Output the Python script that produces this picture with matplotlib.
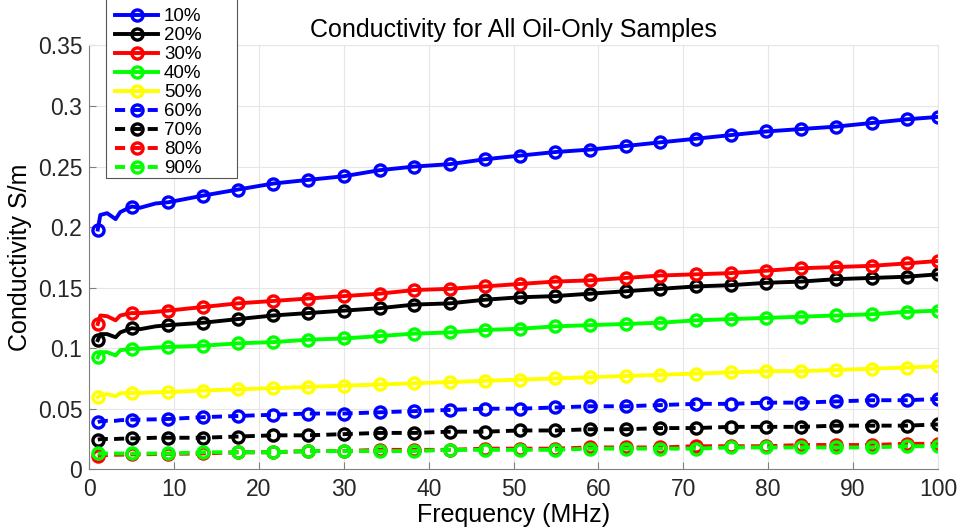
import numpy as np
import matplotlib.pyplot as plt
from matplotlib.patches import Rectangle

plt.rcParams['font.family'] = ['Liberation Sans', 'DejaVu Sans']

# ---------- DATA ----------
# frequency points (MHz); markers are drawn on every point except the few
# extra points near the start that show the early wiggle
freq = [1, 1.3, 2.1, 3.1, 3.65, 5, 6.0, 7.8, 9.3, 13.4, 17.5, 21.7, 25.8, 30,
        34.2, 38.3, 42.5, 46.6, 50.7, 54.9, 59, 63.2, 67.3, 71.5, 75.6, 79.8,
        83.9, 88, 92.2, 96.3, 100]
marker_idx = [0, 5] + list(range(8, len(freq)))

s10 = [0.198, 0.210, 0.2115, 0.2066, 0.2124, 0.217, 0.216, 0.2195, 0.2205,
       0.226, 0.231, 0.236, 0.239, 0.242, 0.247, 0.250, 0.252, 0.256, 0.259,
       0.262, 0.264, 0.267, 0.270, 0.273, 0.276, 0.279, 0.281, 0.283, 0.286,
       0.289, 0.291]
s20 = [0.1066, 0.1116, 0.1116, 0.109, 0.113, 0.1165, 0.1157, 0.118, 0.119,
       0.121, 0.124, 0.127, 0.129, 0.131, 0.133, 0.136, 0.137, 0.140, 0.142,
       0.143, 0.145, 0.147, 0.149, 0.151, 0.152, 0.154, 0.155, 0.157, 0.158,
       0.159, 0.161]
s30 = [0.120, 0.127, 0.1264, 0.123, 0.127, 0.129, 0.129, 0.130, 0.131,
       0.134, 0.137, 0.139, 0.141, 0.143, 0.145, 0.148, 0.149, 0.151, 0.153,
       0.155, 0.156, 0.158, 0.160, 0.161, 0.162, 0.164, 0.166, 0.167, 0.168,
       0.170, 0.172]
s40 = [0.0925, 0.0967, 0.0967, 0.094, 0.0983, 0.0995, 0.0995, 0.1005, 0.101,
       0.102, 0.104, 0.105, 0.107, 0.108, 0.110, 0.112, 0.113, 0.115, 0.116,
       0.118, 0.119, 0.120, 0.121, 0.123, 0.124, 0.125, 0.126, 0.127, 0.128,
       0.130, 0.131]
s50 = [0.0595, 0.061, 0.062, 0.0603, 0.0628, 0.063, 0.063, 0.0636, 0.0638,
       0.065, 0.066, 0.067, 0.068, 0.069, 0.070, 0.071, 0.072, 0.073, 0.074,
       0.075, 0.076, 0.077, 0.078, 0.079, 0.080, 0.081, 0.081, 0.082, 0.083,
       0.084, 0.085]
s60 = [0.039, 0.0395, 0.040, 0.040, 0.0405, 0.041, 0.041, 0.0412, 0.0415,
       0.043, 0.044, 0.045, 0.046, 0.046, 0.047, 0.048, 0.049, 0.050, 0.050,
       0.051, 0.052, 0.052, 0.053, 0.054, 0.054, 0.055, 0.055, 0.056, 0.057,
       0.057, 0.058]
s70 = [0.0245, 0.0248, 0.025, 0.025, 0.0252, 0.0255, 0.0256, 0.026, 0.026,
       0.026, 0.027, 0.028, 0.028, 0.029, 0.030, 0.030, 0.031, 0.031, 0.032,
       0.032, 0.033, 0.033, 0.034, 0.034, 0.035, 0.035, 0.035, 0.036, 0.036,
       0.036, 0.037]
s80 = [0.011, 0.0113, 0.0117, 0.012, 0.012, 0.0122, 0.0123, 0.0125, 0.0127,
       0.013, 0.014, 0.014, 0.015, 0.015, 0.016, 0.016, 0.016, 0.017, 0.017,
       0.017, 0.018, 0.018, 0.018, 0.019, 0.019, 0.019, 0.020, 0.020, 0.020,
       0.021, 0.021]
s90 = [0.013, 0.013, 0.013, 0.013, 0.013, 0.013, 0.013, 0.013, 0.013,
       0.014, 0.014, 0.014, 0.015, 0.015, 0.015, 0.015, 0.016, 0.016, 0.016,
       0.016, 0.017, 0.017, 0.017, 0.017, 0.018, 0.018, 0.018, 0.018, 0.018,
       0.019, 0.019]

labels = ['10%', '20%', '30%', '40%', '50%', '60%', '70%', '80%', '90%']
series = [s10, s20, s30, s40, s50, s60, s70, s80, s90]
colors = ['#0000ff', '#000000', '#ff0000', '#00ff00', '#ffff00',
          '#0000ff', '#000000', '#ff0000', '#00ff00']
styles = ['-'] * 5 + ['--'] * 4

# ---------- PLOT ----------
fig = plt.figure(figsize=(9.6, 5.29), dpi=100)
ax = fig.add_axes([0.093, 0.113, 0.884, 0.801])

for y, lab, c, ls in zip(series, labels, colors, styles):
    line, = ax.plot(freq, y, ls, color=c, lw=2.8, marker='o', ms=8, mew=2.4,
                    mfc='none', mec=c, label=lab, markevery=marker_idx)
    if ls == '--':
        line.set_dashes((2.6, 1.6))

ax.set_xlim(0, 100)
ax.set_ylim(0, 0.35)
ax.set_xticks(np.arange(0, 101, 10))
ax.set_yticks(np.arange(0, 0.351, 0.05))
ax.set_yticklabels(['0', '0.05', '0.1', '0.15', '0.2', '0.25', '0.3', '0.35'])
ax.grid(True, color='#e6e6e6', lw=0.8)
ax.set_axisbelow(True)
for side in ['top', 'right']:
    ax.spines[side].set_color('#e6e6e6')
for side in ['left', 'bottom']:
    ax.spines[side].set_color('#808080')
ax.tick_params(direction='in', length=5, color='#808080', labelsize=16.5,
               labelcolor='#262626', top=False, right=False)
ax.tick_params(axis='x', pad=6)
ax.tick_params(axis='y', pad=5)

ax.set_xlabel('Frequency (MHz)', fontsize=18, labelpad=2)
ax.set_ylabel('Conductivity S/m', fontsize=18, labelpad=4)
ax.set_title('Conductivity for All Oil-Only Samples', fontsize=18, pad=6)

# legend box (drawn separately so it can be wider than its contents)
box = Rectangle((0.020, 0.687), 0.154, 0.45, transform=ax.transAxes,
                facecolor='white', edgecolor='#555555', lw=0.8,
                clip_on=False, zorder=4)
ax.add_patch(box)
leg = ax.legend(loc='upper left', bbox_to_anchor=(0.0306, 1.088),
                fontsize=13.5, handlelength=2.3, labelspacing=0.1,
                borderpad=0, handletextpad=0.3, frameon=False,
                borderaxespad=0)
leg.set_zorder(5)

fig.savefig('out.png', dpi=100)
